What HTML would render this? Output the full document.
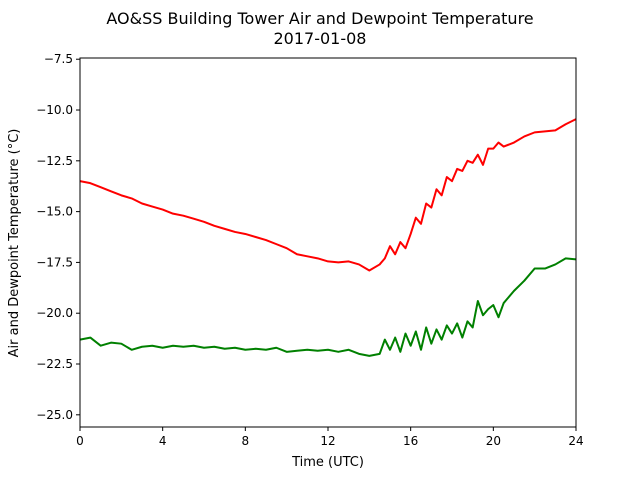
<!DOCTYPE html>
<html><head><meta charset="utf-8"><style>
body{margin:0;background:#fff}
svg{display:block;font-family:"DejaVu Sans","Liberation Sans",sans-serif}
</style></head><body>
<svg id="chart" width="640" height="480">
<text x="320" y="24" text-anchor="middle" font-size="16">AO&amp;SS Building Tower Air and Dewpoint Temperature</text>
<text x="320" y="44" text-anchor="middle" font-size="16">2017-01-08</text>
<g id="plot"></g>
<text x="328" y="466" text-anchor="middle" font-size="13">Time (UTC)</text>
<text transform="translate(18,243) rotate(-90)" text-anchor="middle" font-size="13">Air and Dewpoint Temperature (°C)</text>
</svg>
<script>
const times = [0,0.5,1,1.5,2,2.5,3,3.5,4,4.5,5,5.5,6,6.5,7,7.5,8,8.5,9,9.5,10,10.5,11,11.5,12,12.5,13,13.5,14,14.5,14.75,15,15.25,15.5,15.75,16,16.25,16.5,16.75,17,17.25,17.5,17.75,18,18.25,18.5,18.75,19,19.25,19.5,19.75,20,20.25,20.5,21,21.5,22,22.5,23,23.5,24];
const airTemp = [-13.5,-13.6,-13.8,-14.0,-14.2,-14.35,-14.6,-14.75,-14.9,-15.1,-15.2,-15.35,-15.5,-15.7,-15.85,-16.0,-16.1,-16.25,-16.4,-16.6,-16.8,-17.1,-17.2,-17.3,-17.45,-17.5,-17.45,-17.6,-17.9,-17.6,-17.3,-16.7,-17.1,-16.5,-16.8,-16.1,-15.3,-15.6,-14.6,-14.8,-13.9,-14.2,-13.3,-13.5,-12.9,-13.0,-12.5,-12.6,-12.2,-12.7,-11.9,-11.9,-11.6,-11.8,-11.6,-11.3,-11.1,-11.05,-11.0,-10.7,-10.45];
const dewTemp = [-21.3,-21.2,-21.6,-21.45,-21.5,-21.8,-21.65,-21.6,-21.7,-21.6,-21.65,-21.6,-21.7,-21.65,-21.75,-21.7,-21.8,-21.75,-21.8,-21.7,-21.9,-21.85,-21.8,-21.85,-21.8,-21.9,-21.8,-22.0,-22.1,-22.0,-21.3,-21.8,-21.2,-21.9,-21.0,-21.6,-20.9,-21.8,-20.7,-21.5,-20.8,-21.3,-20.6,-21.0,-20.5,-21.2,-20.4,-20.7,-19.4,-20.1,-19.8,-19.6,-20.2,-19.5,-18.9,-18.4,-17.8,-17.8,-17.6,-17.3,-17.35];
const xTicks = [0,4,8,12,16,20,24];
const yTicks = [-7.5,-10.0,-12.5,-15.0,-17.5,-20.0,-22.5,-25.0];
const L=80,R=576,T=58,B=427,xmin=0,xmax=24,ymin=-25.6,ymax=-7.44;
const xs=v=>L+(v-xmin)/(xmax-xmin)*(R-L);
const ys=v=>B-(v-ymin)/(ymax-ymin)*(B-T);
const NS="http://www.w3.org/2000/svg";
const g=document.getElementById('plot');
function mk(t,a){const e=document.createElementNS(NS,t);for(const k in a)e.setAttribute(k,a[k]);g.appendChild(e);return e;}
function line(vals,color,name){
  const e=mk('polyline',{points:times.map((t,i)=>xs(t)+','+ys(vals[i])).join(' '),fill:'none',stroke:color,'stroke-width':2,'stroke-linejoin':'round'});
  
  
}
line(airTemp,'#ff0000','air-temperature-line');
line(dewTemp,'#008000','dewpoint-temperature-line');
const fr=mk('rect',{x:L,y:T,width:R-L,height:B-T,fill:'none',stroke:'#000','stroke-width':1});


xTicks.forEach(v=>{
  const x=xs(v);
  const tk=mk('line',{x1:x,x2:x,y1:B,y2:B+4,stroke:'#000'});
  
  
  const tx=mk('text',{x:x,y:B+18,'text-anchor':'middle','font-size':12});
  tx.textContent=v;
  
  
});
yTicks.forEach(v=>{
  const y=ys(v);
  const tk=mk('line',{x1:L-4,x2:L,y1:y,y2:y,stroke:'#000'});
  
  
  const tx=mk('text',{x:L-7,y:y+4,'text-anchor':'end','font-size':12});
  tx.textContent=(v<0?'\u2212':'')+Math.abs(v).toFixed(1);
  
  
});
</script>
</body></html>
